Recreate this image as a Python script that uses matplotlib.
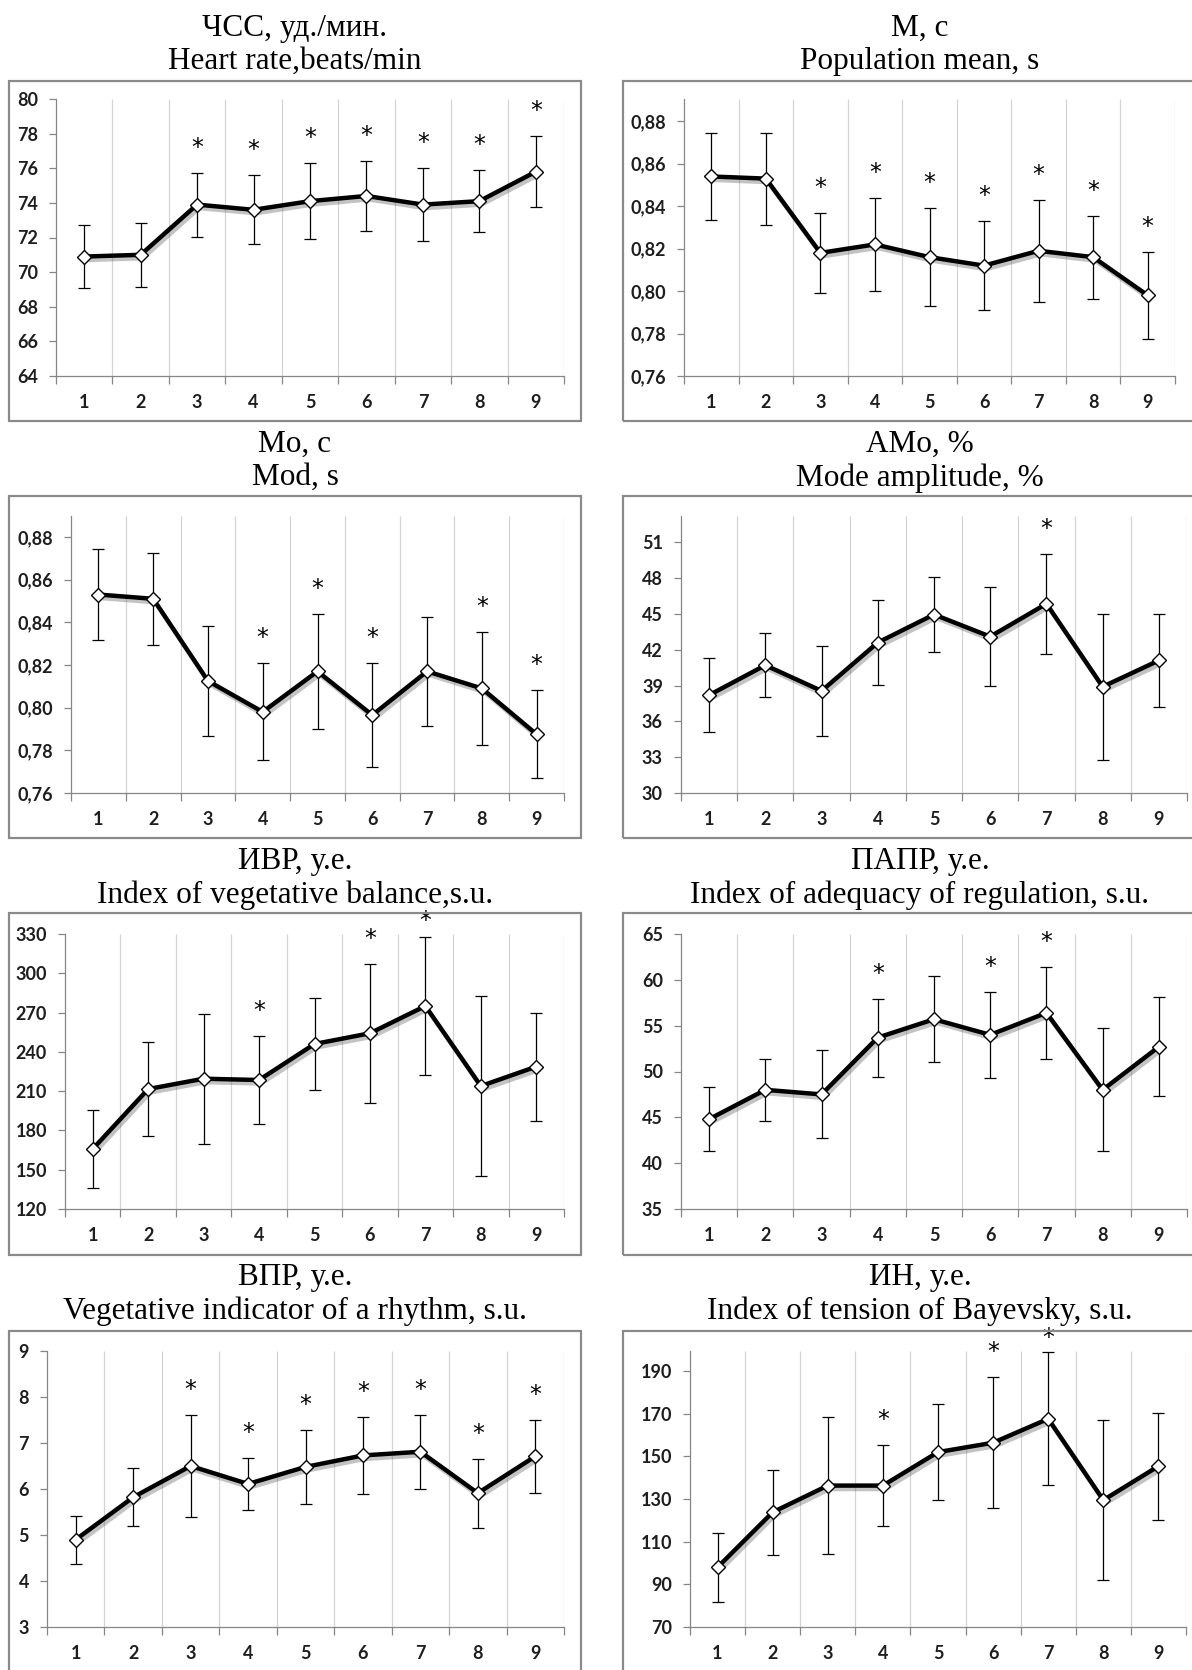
import numpy as np
import matplotlib
matplotlib.use('Agg')
import matplotlib.pyplot as plt
import matplotlib.patheffects as pe
from matplotlib.patches import Rectangle
from matplotlib.ticker import FuncFormatter

# groups on the x axis
groups = [1, 2, 3, 4, 5, 6, 7, 8, 9]

# heart rate
hr_mean = [70.9, 71.0, 73.9, 73.6, 74.1, 74.4, 73.9, 74.1, 75.8]
hr_err = [1.8, 1.85, 1.85, 2.0, 2.2, 2.0, 2.1, 1.8, 2.05]
hr_stars = [3, 4, 5, 6, 7, 8, 9]

# population mean
m_mean = [0.854, 0.853, 0.818, 0.822, 0.816, 0.812, 0.819, 0.816, 0.798]
m_err = [0.0205, 0.0217, 0.019, 0.022, 0.023, 0.021, 0.024, 0.0195, 0.0206]
m_stars = [3, 4, 5, 6, 7, 8, 9]

# mode
mo_mean = [0.853, 0.851, 0.8125, 0.798, 0.817, 0.7965, 0.817, 0.809, 0.7875]
mo_err = [0.0215, 0.0215, 0.0256, 0.0227, 0.0271, 0.0245, 0.0255, 0.0264, 0.0207]
mo_stars = [4, 5, 6, 8, 9]

# mode amplitude
amo_mean = [38.2, 40.7, 38.55, 42.6, 44.95, 43.1, 45.85, 38.9, 41.1]
amo_err = [3.1, 2.7, 3.76, 3.55, 3.1, 4.15, 4.2, 6.1, 3.9]
amo_stars = [7]

# index of vegetative balance
ivr_mean = [165.8, 211.6, 219.5, 218.5, 246.0, 254.2, 275.0, 213.9, 228.7]
ivr_err = [29.7, 35.9, 49.6, 33.3, 35.0, 53.2, 52.9, 68.5, 41.2]
ivr_stars = [4, 6, 7]

# index of adequacy of regulation
papr_mean = [44.8, 48.0, 47.5, 53.7, 55.7, 54.0, 56.4, 48.0, 52.7]
papr_err = [3.46, 3.4, 4.8, 4.25, 4.7, 4.7, 5.0, 6.7, 5.4]
papr_stars = [4, 6, 7]

# vegetative indicator of rhythm
vpr_mean = [4.9, 5.82, 6.5, 6.11, 6.48, 6.73, 6.81, 5.91, 6.71]
vpr_err = [0.52, 0.63, 1.1, 0.56, 0.8, 0.83, 0.8, 0.75, 0.79]
vpr_stars = [3, 4, 5, 6, 7, 8, 9]

# tension index
in_mean = [98.0, 123.8, 136.3, 136.3, 152.0, 156.4, 167.6, 129.5, 145.4]
in_err = [16.2, 19.9, 32.3, 19.0, 22.5, 30.6, 31.2, 37.5, 25.1]
in_stars = [4, 6, 7]

W, H = 1192, 1670
fig = plt.figure(figsize=(W / 100, H / 100), dpi=100)

# frame x extents and title centre per column
cols = [(9, 581, 295), (623, 1205, 920)]
# (frame top, frame bottom, plot top, plot bottom, title y) per row
rows = [(81, 421, 99, 376, 45),
        (496, 838, 516, 793, 461),
        (913, 1255, 934, 1209, 879),
        (1331, 1690, 1351, 1627, 1295)]
# plot area x extents per panel
plot_x = [(56, 564), (684, 1175),
          (71, 564), (681, 1187),
          (65, 564), (681, 1187),
          (47, 564), (690, 1186)]

panels = [
    ('ЧСС, уд./мин.\nHeart rate,beats/min', hr_mean, hr_err, hr_stars, 64, 80, 2, 0),
    ('M, c\nPopulation mean, s', m_mean, m_err, m_stars, 0.76, 0.8905, 0.02, 2),
    ('Mo, c\nMod, s', mo_mean, mo_err, mo_stars, 0.76, 0.8898, 0.02, 2),
    ('AMo, %\nMode amplitude, %', amo_mean, amo_err, amo_stars, 30, 53.2, 3, 0),
    ('ИВР, у.е.\nIndex of vegetative balance,s.u.', ivr_mean, ivr_err, ivr_stars, 120, 330, 30, 0),
    ('ПАПР, у.е.\nIndex of adequacy of regulation, s.u.', papr_mean, papr_err, papr_stars, 35, 65, 5, 0),
    ('ВПР, у.е.\nVegetative indicator of a rhythm, s.u.', vpr_mean, vpr_err, vpr_stars, 3, 9, 1, 0),
    ('ИН, у.е.\nIndex of tension of Bayevsky, s.u.', in_mean, in_err, in_stars, 70, 199.4, 20, 0),
]

axis_gray = '#868686'
label_color = '#1e1e1e'
tick_font = dict(family='Lato', weight='bold', size=13)

for k, (title, mean, err, stars, ymin, ymax, step, dec) in enumerate(panels):
    fx0, fx1, tx = cols[k % 2]
    ft, fb, pt, pb, ty = rows[k // 2]
    px0, px1 = plot_x[k]

    fig.add_artist(Rectangle((fx0 / W, 1 - fb / H), (fx1 - fx0) / W, (fb - ft) / H,
                             transform=fig.transFigure, fill=False,
                             edgecolor='#8a8a8a', linewidth=1.6))
    fig.text(tx / W, 1 - ty / H, title, ha='center', va='center',
             family='Liberation Serif', fontsize=22.5, linespacing=1.2)

    ax = fig.add_axes([px0 / W, 1 - pb / H, (px1 - px0) / W, (pb - pt) / H])
    ax.set_xlim(0.5, 9.5)
    ax.set_ylim(ymin, ymax)
    for s in ['top', 'right']:
        ax.spines[s].set_visible(False)
    for s in ['left', 'bottom']:
        ax.spines[s].set_color(axis_gray)
        ax.spines[s].set_linewidth(0.9)

    bounds = np.arange(0.5, 9.6, 1.0)
    ax.set_xticks(bounds)
    ax.set_xticklabels([])
    ax.set_xticks(groups, minor=True)
    ax.set_xticklabels([str(g) for g in groups], minor=True, fontdict=tick_font, color=label_color)
    ax.tick_params(axis='x', which='major', direction='out', length=6, color=axis_gray, width=0.9)
    ax.tick_params(axis='x', which='minor', length=0, pad=13)
    ax.vlines(bounds[1:], ymin, ymax, color='#d4d4d4', linewidth=0.9, zorder=1)

    yt = np.arange(ymin, ymax + step * 0.01, step)
    yt = yt[yt <= ymax + 1e-9]
    ax.set_yticks(yt)
    ax.yaxis.set_major_formatter(FuncFormatter(
        lambda v, p, d=dec: ('%.*f' % (d, v)).replace('.', ',')))
    for lab in ax.get_yticklabels():
        lab.set_fontfamily('Lato')
        lab.set_fontweight('bold')
        lab.set_fontsize(13)
        lab.set_color(label_color)
    ax.tick_params(axis='y', direction='out', length=5, color=axis_gray, width=0.9, pad=8)

    ax.plot(groups, mean, color='black', linewidth=3.2, zorder=3, solid_joinstyle='round',
            path_effects=[pe.SimpleLineShadow(offset=(1.5, -2.5), shadow_color='#555555', alpha=0.35),
                          pe.Normal()])
    ax.errorbar(groups, mean, yerr=err, fmt='none', ecolor='black', elinewidth=0.9,
                capsize=4, capthick=0.9, zorder=4)
    ax.plot(groups, mean, linestyle='none', marker='D', markersize=7,
            markerfacecolor='white', markeredgecolor='black', markeredgewidth=1.0, zorder=5)

    ppu = (pb - pt) / (ymax - ymin)
    for g in stars:
        top = mean[g - 1] + err[g - 1]
        sy = min(top + 25 / ppu, ymax + 13 / ppu)
        ax.text(g, sy, '*', ha='center', va='center', family='DejaVu Sans',
                fontsize=17, clip_on=False, zorder=6)

fig.savefig('out.png', dpi=100)
